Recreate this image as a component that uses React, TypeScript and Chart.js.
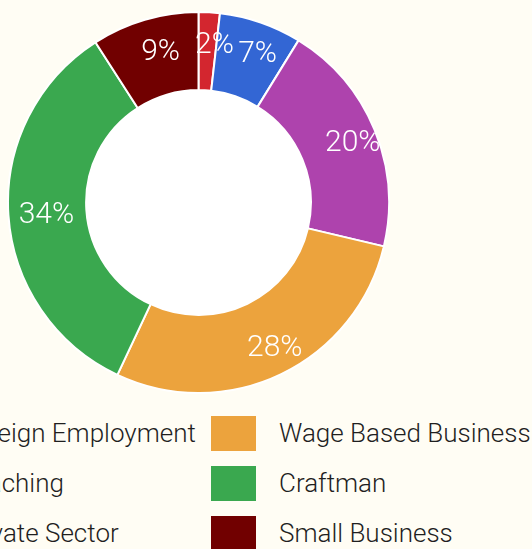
import React, { useEffect, useRef } from "react";
import { Chart, registerables } from "chart.js";

Chart.register(...registerables);

const categories = [
  "Foreign Employment",
  "Teaching",
  "Private Sector",
  "Wage Based Business",
  "Craftman",
  "Small Business",
];
const values = [1.8, 7.0, 19.9, 28.3, 33.9, 9.1];
const colors = ["#d3262f", "#3366d4", "#ae43ad", "#eca33d", "#3aa84f", "#710000"];

const BG = "#fffdf4";
const FONT = "Roboto, 'Noto Sans', sans-serif";

const holePlugin = {
  id: "whiteHole",
  beforeDatasetsDraw(chart: any) {
    const meta = chart.getDatasetMeta(0);
    const arc = meta.data[0];
    if (!arc) return;
    const { x, y, innerRadius } = arc.getProps(["x", "y", "innerRadius"], true);
    const ctx = chart.ctx;
    ctx.save();
    ctx.beginPath();
    ctx.arc(x, y, innerRadius + 1, 0, Math.PI * 2);
    ctx.fillStyle = "#ffffff";
    ctx.fill();
    ctx.restore();
  },
};

const labelPlugin = {
  id: "pctLabels",
  afterDatasetsDraw(chart: any) {
    const ctx = chart.ctx;
    const meta = chart.getDatasetMeta(0);
    const total = values.reduce((a, b) => a + b, 0);
    ctx.save();
    ctx.font = `300 30px ${FONT}`;
    ctx.fillStyle = "#ffffff";
    ctx.textAlign = "center";
    ctx.textBaseline = "middle";
    meta.data.forEach((arc: any, i: number) => {
      const { x, y, startAngle, endAngle, innerRadius, outerRadius } = arc.getProps(
        ["x", "y", "startAngle", "endAngle", "innerRadius", "outerRadius"],
        true
      );
      const mid = (startAngle + endAngle) / 2;
      const r = (innerRadius + outerRadius) / 2 + 8;
      const txt = Math.round((values[i] / total) * 100) + "%";
      ctx.fillText(txt, x + r * Math.cos(mid) + 7, y + r * Math.sin(mid) + 2.5);
    });
    ctx.restore();
  },
};

export default function App() {
  const canvasRef = useRef<HTMLCanvasElement | null>(null);

  useEffect(() => {
    if (!canvasRef.current) return;
    const chart = new Chart(canvasRef.current, {
      type: "doughnut",
      data: {
        labels: categories,
        datasets: [
          {
            data: values,
            backgroundColor: colors,
            borderColor: "#ffffff",
            borderWidth: 2,
          },
        ],
      },
      options: {
        animation: false,
        responsive: true,
        maintainAspectRatio: false,
        cutout: "59%",
        layout: { padding: 0 },
        plugins: {
          legend: { display: false },
          tooltip: { enabled: false },
        },
      },
      plugins: [holePlugin, labelPlugin],
    });
    return () => chart.destroy();
  }, []);

  return (
    <div
      style={{
        position: "fixed",
        left: 0,
        top: 0,
        width: 532,
        height: 549,
        background: BG,
        overflow: "hidden",
        fontFamily: FONT,
      }}
    >
      <div style={{ position: "absolute", left: 7, top: 11, width: 383, height: 383 }}>
        <canvas ref={canvasRef} />
      </div>
      <div
        style={{
          position: "absolute",
          left: -108,
          top: 408,
          display: "grid",
          gridAutoFlow: "column",
          gridTemplateRows: "repeat(3, 50px)",
          gridTemplateColumns: "319px auto",
        }}
      >
        {categories.map((c, i) => (
          <div key={c} style={{ display: "flex", alignItems: "center", whiteSpace: "nowrap" }}>
            <span
              style={{
                display: "inline-block",
                width: 45,
                height: 35,
                background: colors[i],
                marginRight: 23,
                flex: "none",
              }}
            />
            <span style={{ fontSize: 26, fontWeight: 300, color: "#1f1f1f" }}>{c}</span>
          </div>
        ))}
      </div>
    </div>
  );
}
